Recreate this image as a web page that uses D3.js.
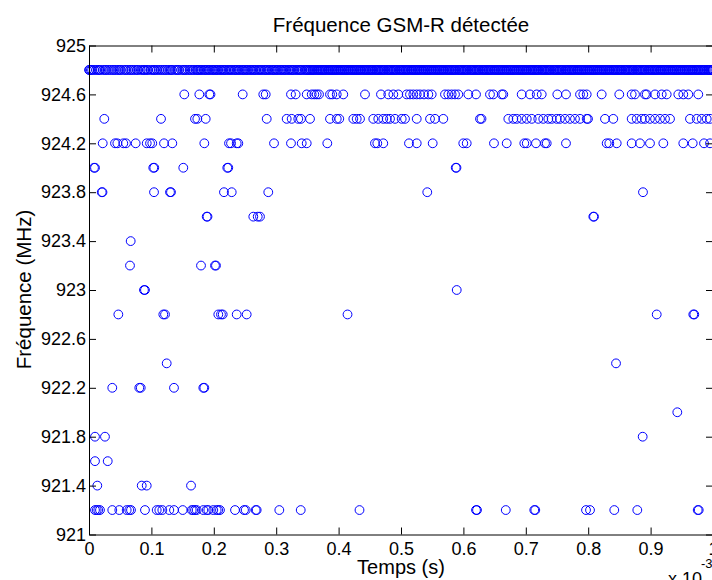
<!DOCTYPE html>
<html>
<head>
<meta charset="utf-8">
<script src="https://cdn.jsdelivr.net/npm/d3@7"></script>
<style>
  html, body { margin: 0; padding: 0; background: #fff; }
  svg { display: block; }
  text { font-family: "Liberation Sans", Arial, Helvetica, sans-serif; fill: #000; }
</style>
</head>
<body>
<svg id="chart" width="712" height="580"></svg>
<script>
// ---- data (time in ms, i.e. x 10^-3 s ; frequency in MHz) ----
const title = "Fréquence GSM-R détectée";
const xLabel = "Temps (s)";
const yLabel = "Fréquence (MHz)";
const xTicks = [0, 0.1, 0.2, 0.3, 0.4, 0.5, 0.6, 0.7, 0.8, 0.9, 1];
const yTicks = [921, 921.4, 921.8, 922.2, 922.6, 923, 923.4, 923.8, 924.2, 924.6, 925];

// 924.8 MHz : near-continuous detections (microseconds), two interleaved passes
const t924_8a_us = [0,3,8,14,18,25,30,36,41,47,51,58,63,68,74,79,86,90,95,102,106,112,118,123,129,133,140,144,151,155,161,166,171,
175,179,184,188,192,197,201,205,210,214,218,223,227,232,236,240,245,249,253,258,262,266,271,275,280,284,288,293,297,301,306,310,314,319,323,327,332,336,340,345,349,
352,355,358,361,365,368,371,374,377,380,384,387,390,393,396,399,403,406,409,412,415,418,422,425,428,431,434,437,441,444,447,450,453,456,460,463,466,469,472,475,479,482,485,488,491,494,498,501,504,507,510,513,517,520,523,526,529,532,536,539,542,545,548,551,555,558,561,564,567,570,574,577,580,583,586,589,593,596,599,602,605,608,612,615,618,621,624,627,631,634,637,640,643,646,650,653,656,659,662,665,669,672,675,678,681,684,688,691,694,697,700,703,707,710,713,716,719,722,726,729,732,735,738,741,745,748,751,754,757,760,764,767,770,773,776,779,783,786,789,792,795,798,802,805,808,811,814,817,821,824,827,830,833,836,840,843,846,849,852,855,859,862,865,868,871,874,878,881,884,887,890,893,897,900,903,906,909,912,916,919,922,925,928,931,935,938,941,944,947,950,954,957,960,963,966,969,973,976,979,982,985,988,992,995,998,1000];
const t924_8b_us = [1,5,11,16,22,27,33,39,44,49,55,60,66,71,77,83,88,93,99,104,109,115,121,126,131,137,142,148,153,158,163,168,173,
177,181,186,190,194,199,203,207,212,216,220,225,229,234,238,242,247,251,255,260,264,268,273,277,282,286,290,295,299,303,308,312,316,321,325,329,334,338,342,347,350,
353,356,359,362,366,369,372,375,378,382,385,388,391,394,397,401,404,407,410,413,416,420,423,426,429,432,435,439,442,445,448,451,454,458,461,464,467,470,473,477,480,483,486,489,492,496,499,502,505,508,511,515,518,521,524,527,530,534,537,540,543,546,549,553,556,559,562,565,568,572,575,578,581,584,587,591,594,597,600,603,606,610,613,616,619,622,625,629,632,635,638,641,644,648,651,654,657,660,663,667,670,673,676,679,682,686,689,692,695,698,701,705,708,711,714,717,720,724,727,730,733,736,739,743,746,749,752,755,758,762,765,768,771,774,777,781,784,787,790,793,796,800,803,806,809,812,815,819,822,825,828,831,834,838,841,844,847,850,853,857,860,863,866,869,872,876,879,882,885,888,891,895,898,901,904,907,910,914,917,920,923,926,929,933,936,939,942,945,948,952,955,958,961,964,967,971,974,977,980,983,986,990,993,996,999];
const t924_6 = [0.1527,0.1768,0.1928,0.1947,0.2463,0.2793,0.2832,0.3237,0.3312,0.3489,0.3569,0.3611,0.3649,0.3686,0.3862,0.3899,0.3970,0.4075,
0.4423,0.4679,0.4796,0.4877,0.4957,0.5091,0.5144,0.5197,0.5252,0.5304,0.5369,0.5438,0.5492,0.5705,0.5758,0.5812,0.5865,0.5918,0.6079,0.6202,0.6426,0.6479,0.6614,0.6639,0.6934,0.7067,0.7175,0.7255,0.7505,0.7644,0.7869,0.7921,0.7976,0.8216,0.8498,0.8697,0.8750,0.8910,0.8937,0.9071,0.9178,0.9258,0.9444,0.9524,0.9604,0.9764];
const t924_4 = [0.0245,0.1154,0.1699,0.1736,0.1870,0.2848,0.3168,0.3248,0.3354,0.3397,0.3542,0.3862,0.3970,0.4011,0.4236,0.4290,0.4343,0.4556,0.4636,0.4716,0.4771,0.4824,0.4904,0.5011,0.5064,0.5252,0.5465,0.5545,0.5678,0.6266,0.6290,0.6720,0.6800,0.6854,0.6934,0.7015,0.7095,0.7200,0.7280,0.7361,0.7415,0.7495,0.7548,0.7628,0.7708,0.7788,0.7869,0.7976,0.7997,0.8269,0.8402,0.8697,0.8777,0.8857,0.8910,0.8990,0.9071,0.9151,0.9231,0.9311,0.9631,0.9739,0.9819,0.9899,0.9952];
const t924_2 = [0.0220,0.0417,0.0454,0.0550,0.0593,0.0748,0.0925,0.0978,0.1014,0.1202,0.1335,0.1848,0.2244,0.2276,0.2367,0.2393,0.2965,0.3237,0.3409,0.3489,0.3819,0.4583,0.4620,0.4716,0.5128,0.5252,0.5508,0.5998,0.6053,0.6490,0.6694,0.6976,0.7015,0.7163,0.7308,0.7335,0.7644,0.8296,0.8338,0.8457,0.8697,0.8830,0.8990,0.9204,0.9524,0.9675,0.9856,0.9952];
const t924_0 = [0.0080,0.0096,0.1030,0.1046,0.1511,0.2216,0.2232,0.5877,0.5889];
const t923_8 = [0.0204,0.0216,0.1042,0.1298,0.1314,0.2163,0.2287,0.2873,0.5421,0.8878];
const t923_6 = [0.1886,0.1899,0.2633,0.2704,0.2740,0.8082,0.8093];
const t923_4 = [0.0668];
const t923_2 = [0.0657,0.1795,0.2019,0.2035];
const t923_0 = [0.0881,0.0897,0.5893];
const t922_8 = [0.0470,0.1191,0.1218,0.2072,0.2115,0.2143,0.2367,0.2527,0.4143,0.9098,0.9684,0.9700];
const t922_4 = [0.1245,0.8446];
const t922_2 = [0.0373,0.0806,0.0829,0.1362,0.1832,0.1848];
const t922_0 = [0.9428];
const t921_8 = [0.0096,0.0256,0.8873];
const t921_6 = [0.0096,0.0300];
const t921_4 = [0.0133,0.0845,0.0925,0.1635];
const t921_2 = [0.0096,0.0123,0.0149,0.0176,0.0373,0.0486,0.0604,0.0646,0.0673,0.0897,0.1085,0.1127,0.1175,0.1287,0.1362,0.1502,0.1646,0.1671,0.1699,0.1726,0.1832,0.1886,0.1912,0.1992,0.2046,0.2072,0.2099,0.2340,0.2484,0.2511,0.2671,0.2687,0.3050,0.3393,0.4335,0.6202,0.6218,0.6679,0.7136,0.7152,0.7965,0.8029,0.8418,0.8787,0.9755,0.9771];

const rows = [
  [924.8, t924_8a_us.concat(t924_8b_us).map(v => v / 1000)],
  [924.6, t924_6], [924.4, t924_4], [924.2, t924_2], [924.0, t924_0],
  [923.8, t923_8], [923.6, t923_6], [923.4, t923_4], [923.2, t923_2],
  [923.0, t923_0], [922.8, t922_8], [922.4, t922_4], [922.2, t922_2],
  [922.0, t922_0], [921.8, t921_8], [921.6, t921_6], [921.4, t921_4],
  [921.2, t921_2]
];
const points = rows.flatMap(([f, ts]) => ts.map(t => ({ t, f })));

// ---- layout ----
const svg = d3.select("#chart");
const L = 89, R = 713, T = 45.5, B = 534.5;
const x = d3.scaleLinear().domain([0, 1]).range([L, R]);
const y = d3.scaleLinear().domain([921, 925]).range([B, T]);
const fmt = d => String(+d.toFixed(1));

// points
svg.append("g")
  .selectAll("circle")
  .data(points)
  .join("circle")
  .attr("cx", d => x(d.t))
  .attr("cy", d => y(d.f))
  .attr("r", 4.4)
  .attr("fill", "none")
  .attr("stroke", "#0000ff")
  .attr("stroke-width", 1);

// axes (ticks inward, MATLAB style)
const fontTick = "18px";
const gx = svg.append("g").attr("transform", `translate(0,${B})`)
  .call(d3.axisBottom(x).tickValues(xTicks).tickFormat(fmt).tickSizeInner(-7).tickSizeOuter(0).tickPadding(8));
const gy = svg.append("g").attr("transform", `translate(${L},0)`)
  .call(d3.axisLeft(y).tickValues(yTicks).tickFormat(fmt).tickSizeInner(-7).tickSizeOuter(0).tickPadding(3));
const gxt = svg.append("g").attr("transform", `translate(0,${T})`)
  .call(d3.axisTop(x).tickValues(xTicks).tickFormat("").tickSizeInner(-7).tickSizeOuter(0));
const gyr = svg.append("g").attr("transform", `translate(${R},0)`)
  .call(d3.axisRight(y).tickValues(yTicks).tickFormat("").tickSizeInner(-7).tickSizeOuter(0));

[gx, gy, gxt, gyr].forEach(g => {
  g.selectAll(".domain").attr("stroke", "#000").attr("stroke-width", 1);
  g.selectAll(".tick line").attr("stroke", "#000").attr("stroke-width", 1);
  g.selectAll(".tick text")
    .style("font-family", '"Liberation Sans", Arial, sans-serif')
    .style("font-size", fontTick)
    .attr("fill", "#000");
});

// title & labels
svg.append("text").attr("x", 401).attr("y", 31.5).attr("text-anchor", "middle")
  .style("font-size", "20.5px").text(title);
svg.append("text").attr("x", 401).attr("y", 574).attr("text-anchor", "middle")
  .style("font-size", "20px").text(xLabel);
svg.append("text").attr("transform", "translate(31,289.5) rotate(-90)").attr("text-anchor", "middle")
  .style("font-size", "20.5px").text(yLabel);

// exponent
svg.append("text").attr("x", 668).attr("y", 585).style("font-size", "18px").text("x 10");
svg.append("text").attr("x", 701).attr("y", 568).style("font-size", "13px").text("-3");
</script>
</body>
</html>
